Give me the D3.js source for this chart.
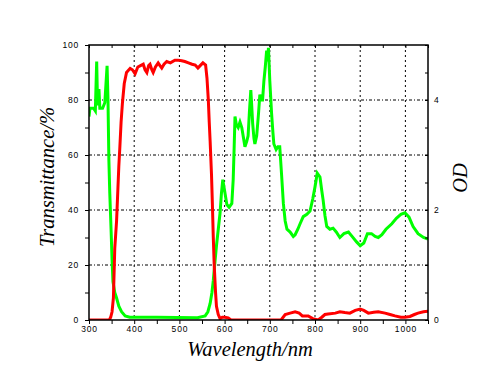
<!DOCTYPE html>
<html>
<head>
<meta charset="utf-8">
<script src="https://cdn.jsdelivr.net/npm/d3@7"></script>
<style>
  body { margin: 0; background: #fff; }
  .tick text { font-family: "Liberation Sans", Arial, sans-serif; font-size: 8.5px; letter-spacing: 0.8px; }
  .title { font-family: "Liberation Serif", "Times New Roman", serif; font-style: italic; font-size: 20.5px; }
</style>
</head>
<body>
<svg width="498" height="385"></svg>
<script>
// transmittance curve (red, left axis, %)
const redWl = [300, 345, 348, 351, 354, 357, 361, 364, 366, 368, 371, 374, 378, 383, 391, 396, 402, 408, 414, 420, 424, 428, 432, 435, 439, 442, 447, 453, 457, 461, 466, 472, 480, 490, 497, 505, 512, 520, 528, 535, 541, 546, 552, 558, 561, 564, 566, 568, 571, 573, 575, 577, 580, 582, 586, 590, 595, 600, 608, 614, 725, 734, 745, 756, 765, 772, 785, 795, 807, 815, 822, 829, 845, 855, 866, 877, 889, 900, 908, 918, 930, 940, 955, 966, 977, 990, 999, 1010, 1020, 1028, 1040, 1050];
const redT = [0, 0, 1, 3, 8, 26, 36, 48, 56, 62, 72, 79, 86, 90, 91.5, 91, 89.5, 92, 92.5, 93, 91, 90, 92.5, 93, 91, 90, 92, 93.5, 92.5, 91.6, 93, 94, 93.5, 94.5, 94.5, 94.3, 94, 93.5, 93, 92.7, 91.6, 92.5, 93.5, 92.7, 88, 80, 72, 65, 53, 42, 30, 20, 10, 5, 2, 0.5, 1, 1, 0.8, 0, 0, 2, 2.5, 3, 2.5, 1.5, 1.5, 0.5, 0, 1, 2, 2.2, 2.5, 3, 2.7, 2.5, 3.5, 4, 3.5, 2.5, 2.8, 3, 2.5, 2, 1.5, 1, 1, 1.3, 2, 2.5, 3, 3.2];

// optical density curve (green, right axis)
const greenWl = [300, 302, 310, 314, 317, 319, 322, 324, 330, 335, 340, 342, 344, 346, 349, 351, 353, 357, 361, 366, 372, 380, 390, 450, 540, 557, 563, 568, 572, 575, 578, 582, 586, 590, 593, 596, 599, 601, 605, 610, 616, 619, 621, 623, 626, 630, 634, 638, 642, 645, 649, 652, 655, 658, 660, 662, 665, 667, 671, 675, 678, 681, 684, 687, 690, 693, 695, 697, 700, 704, 707, 709, 714, 718, 722, 726, 730, 734, 738, 745, 752, 756, 762, 767, 774, 782, 789, 795, 800, 805, 811, 815, 818, 822, 826, 833, 840, 847, 855, 864, 874, 882, 892, 900, 908, 916, 925, 933, 940, 948, 957, 970, 980, 990, 999, 1008, 1017, 1028, 1040, 1050];
const greenOD = [3.70, 3.85, 3.85, 3.80, 4.70, 3.90, 4.20, 3.85, 3.85, 3.95, 4.62, 4.00, 2.90, 2.30, 1.60, 1.10, 0.70, 0.50, 0.40, 0.25, 0.15, 0.075, 0.05, 0.05, 0.04, 0.075, 0.15, 0.30, 0.50, 0.72, 1.00, 1.35, 1.65, 1.95, 2.30, 2.55, 2.40, 2.30, 2.10, 2.05, 2.12, 2.55, 3.10, 3.70, 3.55, 3.50, 3.60, 3.50, 3.30, 3.15, 3.25, 3.35, 3.80, 4.18, 3.90, 3.58, 3.30, 3.20, 3.35, 3.75, 4.10, 4.00, 4.00, 4.35, 4.60, 4.90, 4.70, 4.95, 4.35, 3.75, 3.40, 3.20, 3.10, 3.15, 3.15, 2.65, 2.12, 1.80, 1.65, 1.60, 1.52, 1.55, 1.65, 1.75, 1.88, 1.92, 1.98, 2.20, 2.42, 2.67, 2.60, 2.35, 2.18, 1.90, 1.70, 1.65, 1.67, 1.60, 1.50, 1.57, 1.60, 1.52, 1.42, 1.35, 1.40, 1.57, 1.57, 1.52, 1.50, 1.55, 1.65, 1.75, 1.85, 1.92, 1.95, 1.87, 1.70, 1.57, 1.50, 1.47];

const xTicks = [300, 400, 500, 600, 700, 800, 900, 1000];
const yTicks = [0, 20, 40, 60, 80, 100];
const odTicks = [0, 2, 4];

const svg = d3.select("svg");
const L = 89, R = 428, T = 45, B = 320;

const x = d3.scaleLinear().domain([300, 1050]).range([L, R]);
const y = d3.scaleLinear().domain([0, 100]).range([B, T]);
const yOD = d3.scaleLinear().domain([0, 5]).range([B, T]);

// grid
svg.append("g").selectAll("line")
  .data(xTicks.slice(1))
  .join("line")
  .attr("x1", d => x(d)).attr("x2", d => x(d))
  .attr("y1", T).attr("y2", B)
  .attr("stroke", "#000").attr("stroke-dasharray", "2,3");
svg.append("g").selectAll("line")
  .data(yTicks.slice(1, -1))
  .join("line")
  .attr("x1", L).attr("x2", R)
  .attr("y1", d => y(d)).attr("y2", d => y(d))
  .attr("stroke", "#000").attr("stroke-dasharray", "3,2,1,2");

// curves
svg.append("clipPath").attr("id", "clip")
  .append("rect").attr("x", L).attr("y", T).attr("width", R - L).attr("height", B - T);

const lineRed = d3.line().x(d => x(d[0])).y(d => y(d[1]));
const lineGreen = d3.line().x(d => x(d[0])).y(d => yOD(d[1]));

svg.append("path")
  .datum(greenWl.map((w, i) => [w, greenOD[i]]))
  .attr("d", lineGreen)
  .attr("fill", "none").attr("stroke", "#00ff00").attr("stroke-width", 3)
  .attr("clip-path", "url(#clip)");
svg.append("path")
  .datum(redWl.map((w, i) => [w, redT[i]]))
  .attr("d", lineRed)
  .attr("fill", "none").attr("stroke", "#ff0000").attr("stroke-width", 3)
  .attr("clip-path", "url(#clip)");

// axes
const fmt = d3.format("d");
function styleAxis(g) {
  g.select(".domain").remove();
  g.selectAll(".tick line").attr("stroke", "#000");
}

svg.append("g").attr("transform", `translate(0,${B})`)
  .call(d3.axisBottom(x).tickValues(d3.range(300, 1051, 50)).tickSize(4).tickPadding(2)
    .tickFormat(d => xTicks.includes(d) ? fmt(d) : ""))
  .call(styleAxis);
svg.append("g").attr("transform", `translate(0,${T})`)
  .call(d3.axisBottom(x).tickValues(d3.range(300, 1051, 50)).tickSize(3).tickFormat(""))
  .call(styleAxis);
svg.append("g").attr("transform", `translate(${L},0)`)
  .call(d3.axisLeft(y).tickValues(d3.range(0, 101, 10)).tickSize(4).tickPadding(6)
    .tickFormat(d => yTicks.includes(d) ? fmt(d) : ""))
  .call(styleAxis);
svg.append("g").attr("transform", `translate(${R},0)`)
  .call(d3.axisLeft(yOD).tickValues(d3.range(0, 5.01, 0.5)).tickSize(3).tickFormat(""))
  .call(styleAxis);
svg.append("g").attr("transform", `translate(${R},0)`)
  .call(d3.axisRight(yOD).tickValues(odTicks).tickSize(0).tickPadding(6).tickFormat(fmt))
  .call(styleAxis);

svg.append("rect")
  .attr("x", L).attr("y", T).attr("width", R - L).attr("height", B - T)
  .attr("fill", "none").attr("stroke", "#000").attr("stroke-width", 1.5);

// titles
svg.append("text").attr("class", "title")
  .attr("x", 250).attr("y", 356).attr("text-anchor", "middle")
  .text("Wavelength/nm");
svg.append("text").attr("class", "title")
  .attr("transform", "translate(54,177) rotate(-90)").attr("text-anchor", "middle")
  .text("Transmittance/%");
svg.append("text").attr("class", "title")
  .attr("transform", "translate(467,178) rotate(-90)").attr("text-anchor", "middle")
  .text("OD");
</script>
</body>
</html>
